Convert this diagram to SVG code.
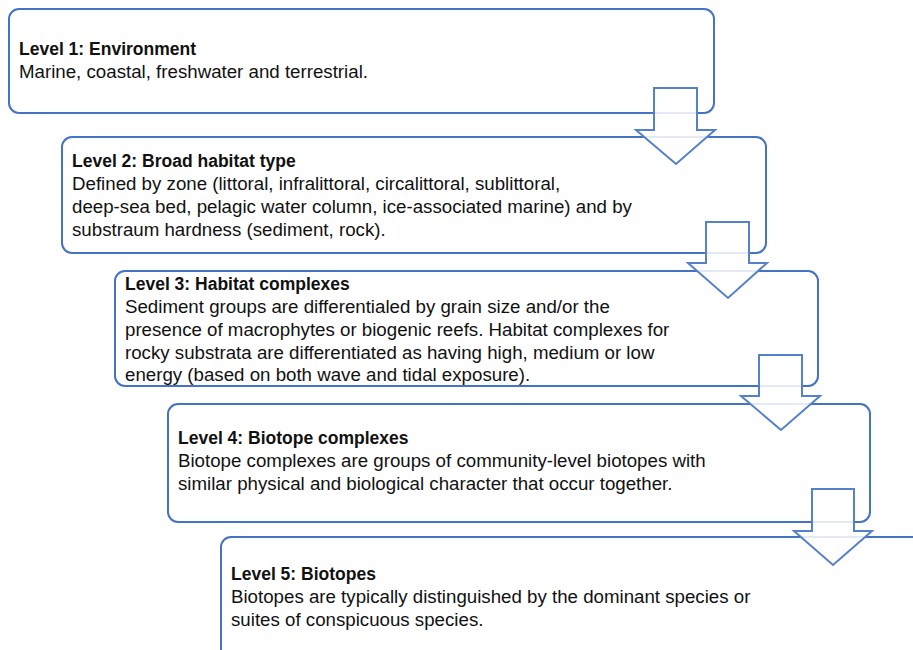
<svg xmlns="http://www.w3.org/2000/svg" width="913" height="650" viewBox="0 0 913 650">
<style>
.box{fill:#ffffff;stroke:#4472C4;stroke-width:2}
.arrow{fill:#ffffff;fill-opacity:0.85;stroke:#5580CA;stroke-width:2;stroke-linejoin:miter}
text{font-family:"Liberation Sans",Arial,sans-serif;font-size:18.7px;fill:#111111}
.t{font-weight:bold;font-size:17.5px}
</style>
<rect width="913" height="650" fill="#ffffff"/>
<g id="level1">
<rect class="box" x="9" y="9" width="705" height="104" rx="10"/>
<text class="t" x="19" y="55">Level 1: Environment</text>
<text x="19" y="78">Marine, coastal, freshwater and terrestrial.</text>
</g>
<g id="level2">
<rect class="box" x="62" y="137" width="704" height="116" rx="10"/>
<text class="t" x="72" y="167">Level 2: Broad habitat type</text>
<text x="72" y="190">Defined by zone (littoral, infralittoral, circalittoral, sublittoral,</text>
<text x="72" y="213">deep-sea bed, pelagic water column, ice-associated marine) and by</text>
<text x="72" y="236">substraum hardness (sediment, rock).</text>
</g>
<g id="level3">
<rect class="box" x="115" y="271" width="703" height="115" rx="10"/>
<text class="t" x="125" y="290">Level 3: Habitat complexes</text>
<text x="125" y="313">Sediment groups are differentialed by grain size and/or the</text>
<text x="125" y="336">presence of macrophytes or biogenic reefs. Habitat complexes for</text>
<text x="125" y="359">rocky substrata are differentiated as having high, medium or low</text>
<text x="125" y="381">energy (based on both wave and tidal exposure).</text>
</g>
<g id="level4">
<rect class="box" x="168" y="404" width="702" height="118" rx="10"/>
<text class="t" x="178" y="444">Level 4: Biotope complexes</text>
<text x="178" y="467">Biotope complexes are groups of community-level biotopes with</text>
<text x="178" y="490">similar physical and biological character that occur together.</text>
</g>
<g id="level5">
<rect class="box" x="221" y="537" width="800" height="200" rx="10"/>
<text class="t" x="231" y="580">Level 5: Biotopes</text>
<text x="231" y="603">Biotopes are typically distinguished by the dominant species or</text>
<text x="231" y="626">suites of conspicuous species.</text>
</g>
<g id="connectors">
<polygon class="arrow" points="654,88 697,88 697,130 715,130 676,164 636,130 654,130"/>
<polygon class="arrow" points="706,222 749,222 749,263 767,263 728,298 688,263 706,263"/>
<polygon class="arrow" points="759,355 802,355 802,396 820,396 781,430 741,396 759,396"/>
<polygon class="arrow" points="812,489 854,489 854,531 872,531 833,565 794,531 812,531"/>
</g>
</svg>
